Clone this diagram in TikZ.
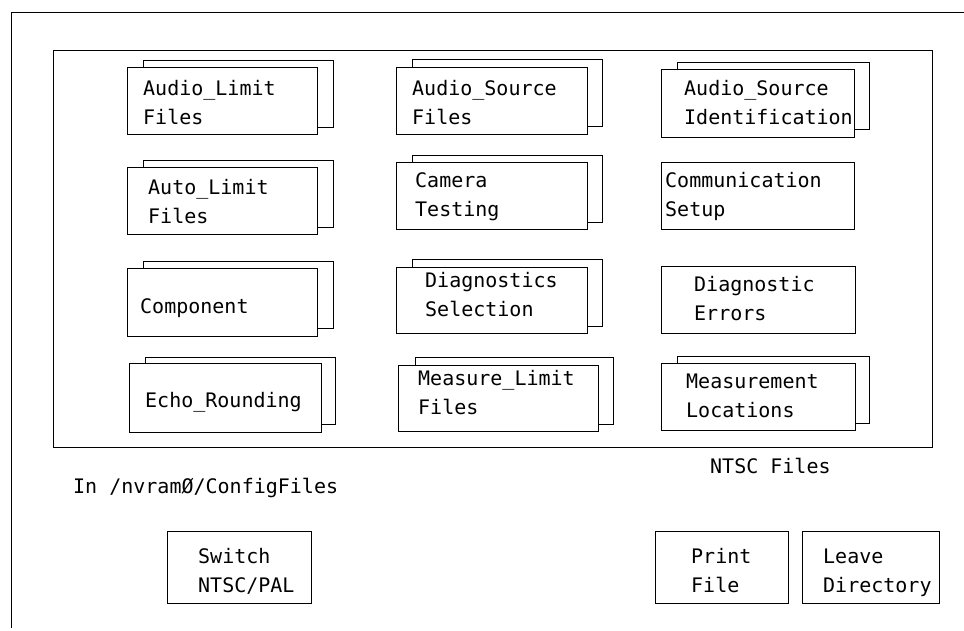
\documentclass[tikz,border=0pt]{standalone}
\usepackage{fontspec}
\newfontfamily\screenfont{DejaVu Sans Mono}
\begin{document}
\begin{tikzpicture}[x=1pt,y=-1pt,
                sheet/.style={draw,fill=white,line width=0.9pt,anchor=north west,inner sep=0pt,minimum width=190pt,minimum height=67pt},
                button/.style={sheet,minimum height=72pt},
                caption/.style={font=\screenfont\fontsize{20}{29.5}\selectfont,align=left,anchor=base west,inner sep=0pt},
                ]
                \useasboundingbox (0,0) rectangle (964,630);
                % window edges and file area
                \coordinate (win tr) at (964,12);
                \coordinate (win tl) at (11,12);
                \coordinate (win bl) at (11,628);
                \draw[line width=0.9pt] (win tr) -- (win tl) -- (win bl);
                \draw[line width=0.9pt] (53,50) rectangle (932,447);
                
                % first column (caption base = last line)
                \node[sheet] (al back) at (143,60) {};
                \node[sheet] (al) at (127,67) {};
                \node[caption] (al text) at (143,124.5) {Audio\_Limit\\Files};
                \node[sheet] (autl back) at (143,160) {};
                \node[sheet] (autl) at (127,167) {};
                \node[caption] (autl text) at (148,223.5) {Auto\_Limit\\Files};
                \node[sheet] (comp back) at (143,261) {};
                \node[sheet, minimum height=68pt] (comp) at (127,268) {};
                \node[caption] (comp text) at (140,313) {Component};
                \node[sheet] (echo back) at (145,357) {};
                \node[sheet, minimum width=192pt, minimum height=69pt] (echo) at (129,363) {};
                \node[caption] (echo text) at (145,407) {Echo\_Rounding};
                
                % second column
                \node[sheet] (asf back) at (412,59) {};
                \node[sheet, minimum width=191pt] (asf) at (396,67) {};
                \node[caption] (asf text) at (412,124.5) {Audio\_Source\\Files};
                \node[sheet] (cam back) at (412,155) {};
                \node[sheet, minimum width=191pt] (cam) at (396,162) {};
                \node[caption] (cam text) at (415,216.5) {Camera\\Testing};
                \node[sheet] (dsel back) at (412,259) {};
                \node[sheet, minimum width=191pt, minimum height=66pt] (dsel) at (396,267) {};
                \node[caption] (dsel text) at (425,316.5) {Diagnostics\\Selection};
                \node[sheet, minimum width=198pt] (ml back) at (415,357) {};
                \node[sheet, minimum width=200pt, minimum height=66pt] (ml) at (398,365) {};
                \node[caption] (ml text) at (418,414.5) {Measure\_Limit\\Files};
                
                % third column
                \node[sheet, minimum width=192pt] (asi back) at (677,62) {};
                \node[sheet, minimum width=193pt, minimum height=68pt] (asi) at (661,69) {};
                \node[caption] (asi text) at (684,124.5) {Audio\_Source\\Identification};
                \node[sheet, minimum width=193pt] (comm) at (661,162) {};
                \node[caption] (comm text) at (665,216.5) {Communication\\Setup};
                \node[sheet, minimum width=194pt] (derr) at (661,266) {};
                \node[caption] (derr text) at (694,320.5) {Diagnostic\\Errors};
                \node[sheet, minimum width=192pt] (meas back) at (677,356) {};
                \node[sheet, minimum width=194pt] (meas) at (661,363) {};
                \node[caption] (meas text) at (686,417.5) {Measurement\\Locations};
                
                % status line and buttons
                \node[caption] (ntsc) at (710,473) {NTSC Files};
                \node[caption] (path) at (73,493) {In /nvramØ/ConfigFiles};
                \node[button, minimum width=144pt] (switch) at (167,531) {};
                \node[caption] (switch text) at (198,592.5) {Switch\\NTSC/PAL};
                \node[button, minimum width=133pt] (print) at (655,531) {};
                \node[caption] (print text) at (691,592.5) {Print\\File};
                \node[button, minimum width=137pt] (leave) at (802,531) {};
                \node[caption] (leave text) at (823,592.5) {Leave\\Directory};
            \end{tikzpicture}
\end{document}
